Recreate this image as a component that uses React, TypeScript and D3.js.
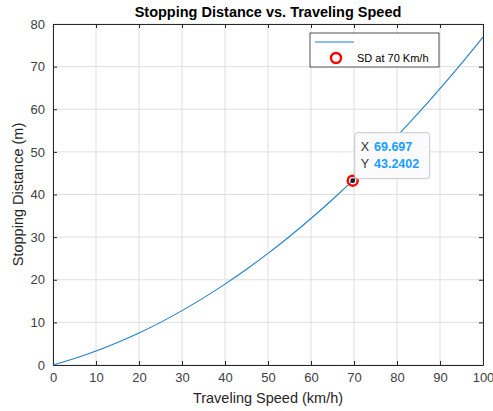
import React, { useEffect, useRef } from "react";
import * as d3 from "d3";

// speeds in km/h and stopping distances (m)
const speeds = [0, 5, 10, 15, 20, 25, 30, 35, 40, 45, 50, 55, 60, 65, 70, 75, 80, 85, 90, 95, 100];
const distances = [0, 1.51, 3.27, 5.28, 7.52, 10.0, 12.76, 15.75, 18.97, 22.45, 26.18, 30.15, 34.36, 38.82, 43.53, 48.48, 53.68, 59.13, 64.82, 70.75, 76.94];
const xTicks = [0, 10, 20, 30, 40, 50, 60, 70, 80, 90, 100];
const yTicks = [0, 10, 20, 30, 40, 50, 60, 70, 80];
const markerPoint = { x: 69.697, y: 43.2402 };
const legendLabels = ["", "SD at 70 Km/h"];

const App = () => {
  const svgRef = useRef<SVGSVGElement>(null);

  useEffect(() => {
    const svg = d3.select(svgRef.current);
    svg.selectAll("*").remove();

    const width = 493;
    const height = 411;
    const margin = { top: 24, right: 10, bottom: 46, left: 53 };
    const font = "Helvetica, Arial, 'Liberation Sans', sans-serif";
    const axisColor = "#262626";

    const x = d3.scaleLinear().domain([0, 100]).range([margin.left, width - margin.right]);
    const y = d3.scaleLinear().domain([0, 80]).range([height - margin.bottom, margin.top]);

    svg.append("rect").attr("width", width).attr("height", height).attr("fill", "#fff");

    // grid
    const grid = svg.append("g").attr("stroke", "#dfdfdf").attr("stroke-width", 1);
    xTicks.forEach((t) => {
      grid.append("line").attr("x1", x(t)).attr("x2", x(t)).attr("y1", y(0)).attr("y2", y(80));
    });
    yTicks.forEach((t) => {
      grid.append("line").attr("x1", x(0)).attr("x2", x(100)).attr("y1", y(t)).attr("y2", y(t));
    });

    // axes (ticks inward, mirrored box)
    const tick = 4;
    svg.append("g")
      .attr("transform", `translate(0, ${y(0)})`)
      .call(d3.axisBottom(x).tickValues(xTicks).tickSizeInner(-tick).tickSizeOuter(0).tickPadding(8))
      .call((g) => g.select(".domain").attr("stroke", axisColor))
      .call((g) => g.selectAll(".tick line").attr("stroke", axisColor))
      .call((g) => g.selectAll("text").attr("fill", "#404040").style("font-size", "13px").style("font-family", font));
    svg.append("g")
      .attr("transform", `translate(${x(0)}, 0)`)
      .call(d3.axisLeft(y).tickValues(yTicks).tickSizeInner(-tick).tickSizeOuter(0).tickPadding(8))
      .call((g) => g.select(".domain").attr("stroke", axisColor))
      .call((g) => g.selectAll(".tick line").attr("stroke", axisColor))
      .call((g) => g.selectAll("text").attr("fill", "#404040").style("font-size", "13px").style("font-family", font));
    svg.append("g")
      .attr("transform", `translate(0, ${y(80)})`)
      .call(d3.axisTop(x).tickValues(xTicks).tickSizeInner(-tick).tickSizeOuter(0).tickFormat(() => ""))
      .call((g) => g.select(".domain").attr("stroke", axisColor))
      .call((g) => g.selectAll(".tick line").attr("stroke", axisColor));
    svg.append("g")
      .attr("transform", `translate(${x(100)}, 0)`)
      .call(d3.axisRight(y).tickValues(yTicks).tickSizeInner(-tick).tickSizeOuter(0).tickFormat(() => ""))
      .call((g) => g.select(".domain").attr("stroke", axisColor))
      .call((g) => g.selectAll(".tick line").attr("stroke", axisColor));

    // curve
    const line = d3
      .line<number>()
      .x((_, i) => x(speeds[i]))
      .y((d) => y(d))
      .curve(d3.curveMonotoneX);
    svg.append("path")
      .datum(distances)
      .attr("d", line)
      .attr("fill", "none")
      .attr("stroke", "#1f80c8")
      .attr("stroke-width", 1.1);

    // marker at 70 km/h
    const mx = x(markerPoint.x);
    const my = y(markerPoint.y);
    svg.append("circle").attr("cx", mx).attr("cy", my).attr("r", 5)
      .attr("fill", "none").attr("stroke", "#ff0000").attr("stroke-width", 2.4);
    svg.append("circle").attr("cx", mx).attr("cy", my).attr("r", 2.4).attr("fill", "#1a1a1a");

    // datatip
    const tip = svg.append("g").attr("transform", `translate(${mx + 2}, ${my - 48})`);
    tip.append("rect").attr("width", 75).attr("height", 46).attr("rx", 3)
      .attr("fill", "#fbfbfd").attr("stroke", "#c8c8c8").attr("stroke-width", 1);
    const tipRows = [["X", markerPoint.x.toString()], ["Y", markerPoint.y.toString()]];
    tipRows.forEach(([k, v], i) => {
      const t = tip.append("text").attr("x", 6).attr("y", 18 + i * 17)
        .style("font-family", font).style("font-size", "12.5px");
      t.append("tspan").attr("fill", "#333").text(k);
      t.append("tspan").attr("dx", 5).attr("fill", "#1a9fff").attr("font-weight", "bold").text(v);
    });

    // legend
    const lg = svg.append("g").attr("transform", "translate(310, 33)");
    lg.append("rect").attr("width", 129).attr("height", 34).attr("fill", "#fff")
      .attr("stroke", axisColor).attr("stroke-width", 0.8);
    lg.append("line").attr("x1", 5).attr("x2", 44).attr("y1", 9).attr("y2", 9)
      .attr("stroke", "#1f80c8").attr("stroke-width", 1.1);
    lg.append("text").attr("x", 50).attr("y", 13).text(legendLabels[0]);
    lg.append("circle").attr("cx", 26).attr("cy", 25).attr("r", 5)
      .attr("fill", "none").attr("stroke", "#ff0000").attr("stroke-width", 2.4);
    lg.append("text").attr("x", 47).attr("y", 29).attr("fill", "#000")
      .style("font-family", font).style("font-size", "11px").text(legendLabels[1]);

    // title and labels
    svg.append("text").attr("x", (x(0) + x(100)) / 2).attr("y", 17).attr("text-anchor", "middle")
      .attr("font-weight", "bold").style("font-family", font).style("font-size", "14.5px")
      .attr("fill", "#000").text("Stopping Distance vs. Traveling Speed");
    svg.append("text").attr("x", (x(0) + x(100)) / 2).attr("y", 403).attr("text-anchor", "middle")
      .style("font-family", font).style("font-size", "14.5px").attr("fill", "#262626")
      .text("Traveling Speed (km/h)");
    svg.append("text")
      .attr("transform", `translate(23, ${(y(0) + y(80)) / 2}) rotate(-90)`)
      .attr("text-anchor", "middle")
      .style("font-family", font).style("font-size", "14.5px").attr("fill", "#262626")
      .text("Stopping Distance (m)");
  }, []);

  return (
    <div style={{ position: "absolute", left: 0, top: 0 }}>
      <svg ref={svgRef} width={493} height={411} style={{ display: "block" }}></svg>
    </div>
  );
};

export default App;
